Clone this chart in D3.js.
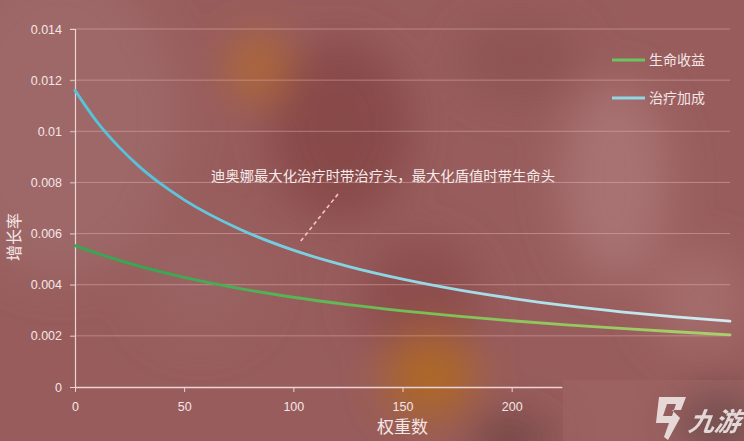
<!DOCTYPE html>
<html>
<head>
<meta charset="utf-8">
<script src="https://cdn.jsdelivr.net/npm/d3@7"></script>
<style>
  html, body { margin: 0; padding: 0; background: #975a5a; }
  svg { display: block; font-family: "Noto Sans CJK SC", "Noto Sans", sans-serif; }
</style>
</head>
<body>
<div id="chart"></div>
<script>
// values
const weights = [0, 10, 20, 30, 40, 50, 75, 100, 125, 150, 175, 200, 225, 250, 275, 300];
const lifeGain = [0.00553, 0.00523, 0.00496, 0.00471, 0.00449, 0.00429, 0.00386, 0.00351, 0.00322, 0.00298, 0.00277, 0.00259, 0.00243, 0.00229, 0.00216, 0.00204];
const healBonus = [0.0116, 0.01038, 0.0094, 0.00858, 0.0079, 0.00732, 0.00619, 0.00535, 0.00472, 0.00422, 0.00381, 0.00347, 0.00318, 0.00294, 0.00274, 0.00258];
const seriesNames = ['生命收益', '治疗加成'];
const yTicks = [0, 0.002, 0.004, 0.006, 0.008, 0.01, 0.012, 0.014];
const xTicks = [0, 50, 100, 150, 200];
const note = '迪奥娜最大化治疗时带治疗头，最大化盾值时带生命头';

const WIDTH = 744;
const HEIGHT = 441;
const MARGIN = { left: 75, top: 29, right: 14, bottom: 54 };
const CHART_WIDTH = WIDTH - MARGIN.left - MARGIN.right;
const CHART_HEIGHT = HEIGHT - MARGIN.top - MARGIN.bottom;

const svg = d3.select('#chart')
    .append('svg')
    .attr('width', WIDTH)
    .attr('height', HEIGHT);

const defs = svg.append('defs');
defs.append('filter').attr('id', 'blur').attr('x', '-50%').attr('y', '-50%').attr('width', '200%').attr('height', '200%')
    .append('feGaussianBlur').attr('stdDeviation', 22);

// green fades to yellow-green, blue fades to near white
const grads = [
    { id: 'g-life', stops: ['#34a852', '#86c45a', '#b4d66e'] },
    { id: 'g-heal', stops: ['#56c3da', '#a4dce8', '#dff2f4'] }
];
grads.forEach(g => {
    const lg = defs.append('linearGradient').attr('id', g.id)
        .attr('gradientUnits', 'userSpaceOnUse')
        .attr('x1', MARGIN.left).attr('x2', WIDTH - MARGIN.right)
        .attr('y1', 0).attr('y2', 0);
    g.stops.forEach((c, i) => lg.append('stop').attr('offset', i / (g.stops.length - 1)).attr('stop-color', c));
});

// blurry photo background
const bg = svg.append('g');
bg.append('rect').attr('width', WIDTH).attr('height', HEIGHT).attr('fill', '#985c5c');
const blobs = bg.append('g').attr('filter', 'url(#blur)');
[
    { cx: 60, cy: 120, rx: 120, ry: 160, c: '#9e6868' },
    { cx: 340, cy: 130, rx: 70, ry: 90, c: '#884a4a' },
    { cx: 420, cy: 300, rx: 60, ry: 60, c: '#8c4e4e' },
    { cx: 615, cy: 180, rx: 55, ry: 100, c: '#a87272' },
    { cx: 520, cy: 60, rx: 60, ry: 40, c: '#8e5252' },
    { cx: 700, cy: 300, rx: 50, ry: 50, c: '#a46c6c' },
    { cx: 200, cy: 280, rx: 60, ry: 60, c: '#9a6262' },
    { cx: 258, cy: 68, rx: 28, ry: 32, c: '#b36a30' },
    { cx: 430, cy: 375, rx: 45, ry: 45, c: '#ae6828' },
    { cx: 720, cy: 425, rx: 40, ry: 30, c: '#3e3232' },
    { cx: 510, cy: 440, rx: 40, ry: 20, c: '#6a4040' }
].forEach(b => blobs.append('ellipse').attr('cx', b.cx).attr('cy', b.cy)
    .attr('rx', b.rx).attr('ry', b.ry).attr('fill', b.c));

const g = svg.append('g').attr('transform', `translate(${MARGIN.left}, ${MARGIN.top})`);

const xScale = d3.scaleLinear().domain([0, 300]).range([0, CHART_WIDTH]);
const yScale = d3.scaleLinear().domain([0, 0.014]).range([CHART_HEIGHT, 0]);

// gridlines
g.append('g').selectAll('line').data(yTicks.slice(1)).join('line')
    .attr('x1', -5).attr('x2', CHART_WIDTH)
    .attr('y1', d => yScale(d)).attr('y2', d => yScale(d))
    .attr('stroke', '#e8bcbc').attr('stroke-opacity', 0.45).attr('stroke-width', 1);

// y axis
const yAxis = g.append('g').attr('class', 'y-axis')
    .call(d3.axisLeft(yScale).tickValues(yTicks).tickSize(5).tickPadding(8)
        .tickFormat(d => d === 0 ? '0' : d3.format('')(+d.toFixed(3))));
yAxis.select('.domain').attr('stroke', '#ecd4d4').attr('stroke-width', 1.2);
yAxis.selectAll('.tick line').attr('stroke', '#ecd4d4').attr('stroke-opacity', 0.7);
yAxis.selectAll('text').attr('fill', '#f4e6e6').attr('font-size', 12.5)
    .attr('font-family', '"Liberation Sans", "Noto Sans", sans-serif');

// x axis, it is cut off by the watermark patch
const xAxisEnd = 223;
const xAxis = g.append('g').attr('class', 'x-axis')
    .attr('transform', `translate(0, ${CHART_HEIGHT})`)
    .call(d3.axisBottom(d3.scaleLinear().domain([0, xAxisEnd]).range([0, xScale(xAxisEnd)]))
        .tickValues(xTicks).tickSize(5).tickSizeOuter(0).tickPadding(10));
xAxis.select('.domain').attr('stroke', '#ecd4d4').attr('stroke-width', 1.5);
xAxis.selectAll('.tick line').attr('stroke', '#ecd4d4');
xAxis.selectAll('text').attr('fill', '#f4e6e6').attr('font-size', 12.5)
    .attr('font-family', '"Liberation Sans", "Noto Sans", sans-serif');

// axis titles
svg.append('text').attr('x', xScale(150) + MARGIN.left).attr('y', 433)
    .attr('text-anchor', 'middle').attr('fill', '#f4e6e6').attr('font-size', 17)
    .text('权重数');
svg.append('text').attr('transform', 'translate(20, 237) rotate(-90)')
    .attr('text-anchor', 'middle').attr('fill', '#f4e6e6').attr('font-size', 16)
    .text('增长率');

// lines
const line = d3.line().curve(d3.curveMonotoneX);
const series = [
    { name: seriesNames[0], values: lifeGain, stroke: 'url(#g-life)' },
    { name: seriesNames[1], values: healBonus, stroke: 'url(#g-heal)' }
];
series.forEach(s => {
    g.append('path')
        .datum(weights.map((w, i) => [xScale(w), yScale(s.values[i])]))
        .attr('d', line)
        .attr('fill', 'none')
        .attr('stroke', s.stroke)
        .attr('stroke-width', 2.8)
        .attr('stroke-linecap', 'round');
});

// legend
const legendColors = ['#6cc460', '#8fd6e6'];
const legend = svg.append('g').attr('transform', 'translate(612, 60)');
seriesNames.forEach((n, i) => {
    const row = legend.append('g').attr('transform', `translate(0, ${i * 38})`);
    row.append('line').attr('x1', 0).attr('x2', 33).attr('stroke', legendColors[i]).attr('stroke-width', 2.8);
    row.append('text').attr('x', 37).attr('y', 5).attr('fill', '#f4e6e6').attr('font-size', 14).text(n);
});

// annotation
svg.append('text').attr('x', 211).attr('y', 181).attr('fill', '#f6eaea').attr('font-size', 14)
    .attr('textLength', 344).attr('lengthAdjust', 'spacingAndGlyphs')
    .text(note);
svg.append('line').attr('x1', 338).attr('y1', 194).attr('x2', 300).attr('y2', 242)
    .attr('stroke', '#f2c4c4').attr('stroke-width', 1.6).attr('stroke-dasharray', '4,3');

// watermark patch
const wm = svg.append('g');
wm.append('rect').attr('x', 563).attr('y', 380).attr('width', 181).attr('height', 61)
    .attr('fill', '#a06666').attr('opacity', 0.5);
wm.append('path')
    .attr('d', 'M659,397 L686,397 L681,410 L672,410 L680,418 L668,440 L664,437 L669,423 L656,423 Z M667,404 L663,416 L672,416 L676,404 Z')
    .attr('fill', '#f0e6e6').attr('fill-rule', 'evenodd').attr('opacity', 0.9);
wm.append('text').attr('x', 688).attr('y', 431).attr('fill', '#f0e6e6').attr('opacity', 0.9)
    .attr('font-size', 26).attr('font-weight', 'bold').attr('font-style', 'italic')
    .attr('transform', 'skewX(-8)').attr('dx', 60)
    .text('九游');
</script>
</body>
</html>
